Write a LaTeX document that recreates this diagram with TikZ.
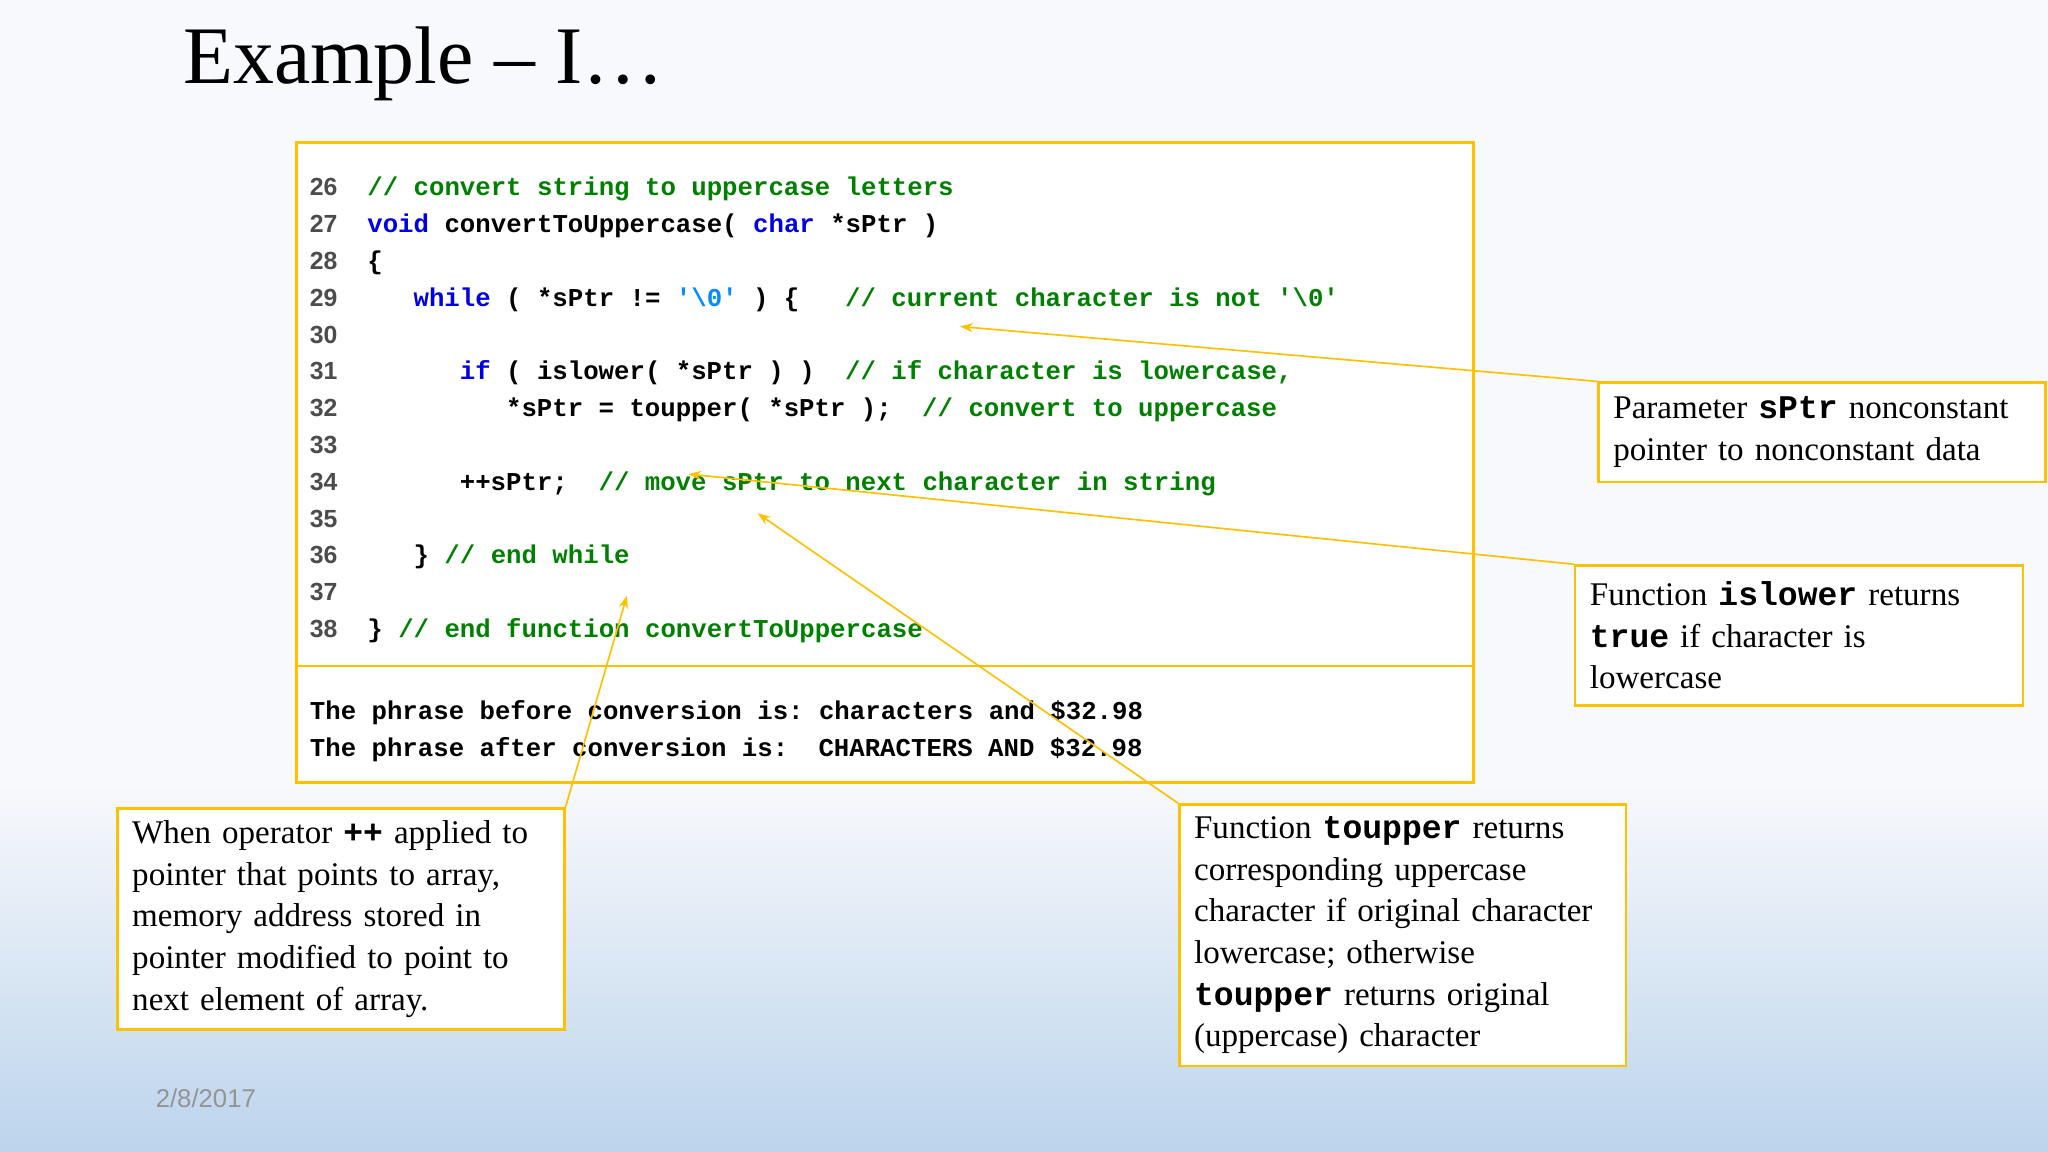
\documentclass[tikz,border=0pt]{standalone}
\usepackage{fontspec}
\setmainfont{Liberation Serif}
\setsansfont{Liberation Sans}
\setmonofont{Liberation Mono}
\usetikzlibrary{arrows.meta}
\definecolor{gold}{RGB}{255,192,0}
\definecolor{cgreen}{RGB}{0,128,0}
\definecolor{kblue}{RGB}{0,0,230}
\definecolor{lblue}{RGB}{0,140,255}
\definecolor{bgtop}{RGB}{248,249,252}
\definecolor{bgbot}{RGB}{188,212,236}
\newcommand\kw[1]{\textcolor{kblue}{#1}}
\newcommand\cm[1]{\textcolor{cgreen}{#1}}
\tikzset{
  codef/.style={anchor=base west,inner sep=0,font=\fontsize{14}{16}\ttfamily\bfseries},
  lnum/.style={anchor=base west,inner sep=0,font=\fontsize{13.5}{16}\sffamily\bfseries,text=black!70},
  frame/.style={draw=gold,line width=1.4pt,fill=white},
  callout/.style={frame,anchor=north west,align=left,inner xsep=8pt,inner ysep=4pt,font=\fontsize{18}{22.7}\selectfont},
  pointer/.style={draw=gold,line width=0.9pt,-{Stealth[length=7pt,width=5pt]}}
}
\newcommand\bt[1]{{\ttfamily\bfseries #1}}
\begin{document}
\begin{tikzpicture}[x=0.025cm,y=-0.025cm]
\useasboundingbox (0,0) rectangle (1568,882);
\fill[bgtop] (0,0) rectangle (1568,600);
\shade[top color=bgtop,bottom color=bgbot] (0,599) rectangle (1568,882);
\node[anchor=base west,inner sep=0,font=\fontsize{44.5}{50}\selectfont] (title) at (140,64) {Example – I\dots};
% code box
\node[frame,minimum width=901*0.025cm,minimum height=490*0.025cm,anchor=north west,inner sep=0] (code) at (226,108) {};
\draw[draw=gold,line width=1.4pt] (code.west |- 0,510) coordinate (dl) -- (code.east |- 0,510) coordinate (dr);
\foreach \n [count=\i from 0] in {26,...,38}
  \node[lnum] (ln\n) at (237,{150+28.17*\i}) {\n};
\def\cx#1{281+11.8*#1}
\node[codef] (c26) at ({\cx{0}},150) {\cm{// convert string to uppercase letters}};
\node[codef] (c27) at ({\cx{0}},178.2) {\kw{void} convertToUppercase( \kw{char} *sPtr )};
\node[codef] (c28) at ({\cx{0}},206.3) {\{};
\node[codef] (c29) at ({\cx{3}},234.5) {\kw{while} ( *sPtr != \textcolor{lblue}{'\textbackslash0'} ) \{};
\node[codef] (c29c) at ({\cx{31}},234.5) {\cm{// current character is not '\textbackslash0'}};
\node[codef] (c31) at ({\cx{6}},290.8) {\kw{if} ( islower( *sPtr ) )};
\node[codef] (c31c) at ({\cx{31}},290.8) {\cm{// if character is lowercase,}};
\node[codef] (c32) at ({\cx{9}},319) {*sPtr = toupper( *sPtr );};
\node[codef] (c32c) at ({\cx{36}},319) {\cm{// convert to uppercase}};
\node[codef] (c34) at ({\cx{6}},375.3) {++sPtr;};
\node[codef] (c34c) at ({\cx{15}},375.3) {\cm{// move sPtr to next character in string}};
\node[codef] (c36) at ({\cx{3}},431.7) {\} \cm{// end while}};
\node[codef] (c38) at ({\cx{0}},488) {\} \cm{// end function convertToUppercase}};
\node[codef] (o1) at (237,551) {The phrase before conversion is: characters and \$32.98};
\node[codef] (o2) at (237,579) {The phrase after conversion is:};
\node[codef] (o2b) at ({237+11.8*33},579) {CHARACTERS AND \$32.98};
% callouts
\node[callout,text width=342*0.025cm-16pt,minimum width=342*0.025cm,minimum height=76*0.025cm] (p1) at (1223,292)
  {Parameter \bt{sPtr} nonconstant\\pointer to nonconstant data};
\node[callout,text width=343*0.025cm-16pt,minimum width=343*0.025cm,minimum height=107*0.025cm] (p2) at (1205,432)
  {Function \bt{islower} returns\\\bt{true} if character is\\lowercase};
\node[callout,text width=342*0.025cm-16pt,minimum width=342*0.025cm,minimum height=200*0.025cm] (p3) at (902,615)
  {Function \bt{toupper} returns\\corresponding uppercase\\character if original character\\lowercase; otherwise\\\bt{toupper} returns original\\(uppercase) character};
\node[callout,text width=342*0.025cm-16pt,minimum width=342*0.025cm,minimum height=169*0.025cm] (p4) at (89,618)
  {When operator \bt{++} applied to\\pointer that points to array,\\memory address stored in\\pointer modified to point to\\next element of array.};
\coordinate (t1) at (735,250);
\coordinate (t2) at (527,363);
\coordinate (t3) at (580,393);
\coordinate (t4) at (480,456);
\draw[pointer] (p1.north west) -- (t1);
\draw[pointer] (p2.north west) -- (t2);
\draw[pointer] (p3.north west) -- (t3);
\draw[pointer] (p4.north east) -- (t4);
\node[anchor=base west,inner sep=0,font=\fontsize{14}{16}\sffamily,text=black!42] (date) at (119,848) {2/8/2017};
\end{tikzpicture}
\end{document}
